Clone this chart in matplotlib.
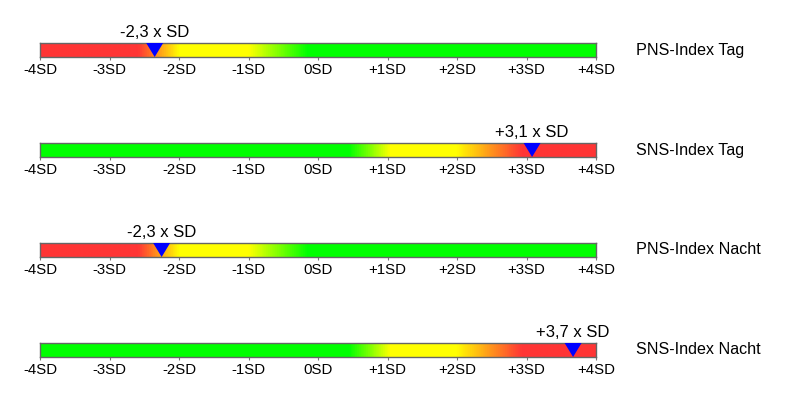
import numpy as np
import matplotlib
matplotlib.use("Agg")
import matplotlib.pyplot as plt
from matplotlib.colors import LinearSegmentedColormap

plt.rcParams['font.family'] = ['Liberation Sans', 'DejaVu Sans']

names = ["PNS-Index Tag", "SNS-Index Tag", "PNS-Index Nacht", "SNS-Index Nacht"]
values = [-2.35, 3.08, -2.25, 3.67]
value_labels = ["-2,3 x SD", "+3,1 x SD", "-2,3 x SD", "+3,7 x SD"]
kinds = ["PNS", "SNS", "PNS", "SNS"]
tick_vals = [-4, -3, -2, -1, 0, 1, 2, 3, 4]
tick_labels = ["-4SD", "-3SD", "-2SD", "-1SD", "0SD", "+1SD", "+2SD", "+3SD", "+4SD"]

RED = "#FF3535"
YEL = "#FFFF00"
GRN = "#00FF00"

def norm(x):
    return (x + 4) / 8.0

pns_cmap = LinearSegmentedColormap.from_list("pns", [
    (0.0, RED), (norm(-2.6), RED), (norm(-2.0), YEL), (norm(-1.0), YEL),
    (norm(-0.15), GRN), (1.0, GRN)])
sns_cmap = LinearSegmentedColormap.from_list("sns", [
    (0.0, GRN), (norm(0.45), GRN), (norm(1.05), YEL), (norm(2.0), YEL),
    (norm(2.95), RED), (1.0, RED)])

W, H = 800, 400
fig = plt.figure(figsize=(8, 4), dpi=100)
fig.patch.set_facecolor("white")

x0, x1 = 40, 596
bar_h = 14
centers = [50, 150, 250, 350]
grad = np.linspace(-4, 4, 1000).reshape(1, -1)

for name, v, lab, kind, cy in zip(names, values, value_labels, kinds, centers):
    ax = fig.add_axes([x0 / W, 1 - (cy + bar_h / 2) / H, (x1 - x0) / W, bar_h / H])
    cmap = pns_cmap if kind == "PNS" else sns_cmap
    ax.imshow(grad, aspect="auto", cmap=cmap, vmin=-4, vmax=4,
              extent=[-4, 4, 0, 1], interpolation="bilinear")
    ax.set_xlim(-4, 4)
    ax.set_ylim(0, 1)
    ax.set_yticks([])
    ax.set_xticks(tick_vals)
    ax.set_xticklabels(tick_labels, fontsize=10.8)
    ax.tick_params(axis="x", direction="out", length=2.5, color="#777777", pad=2)
    for s in ax.spines.values():
        s.set_color("#666666")
        s.set_linewidth(1.0)
    hw = 0.122
    ax.fill([v - hw, v + hw, v], [1, 1, 0], color="#0000FF", clip_on=False, zorder=5, lw=0)
    ax.text(v, 1.2, lab, ha="center", va="bottom", fontsize=12,
            transform=ax.transData, clip_on=False)
    ax.text((636 - x0) / (x1 - x0), 0.5, name, ha="left", va="center", fontsize=11.6,
            transform=ax.transAxes)

fig.savefig("out.png", dpi=100, facecolor="white")
